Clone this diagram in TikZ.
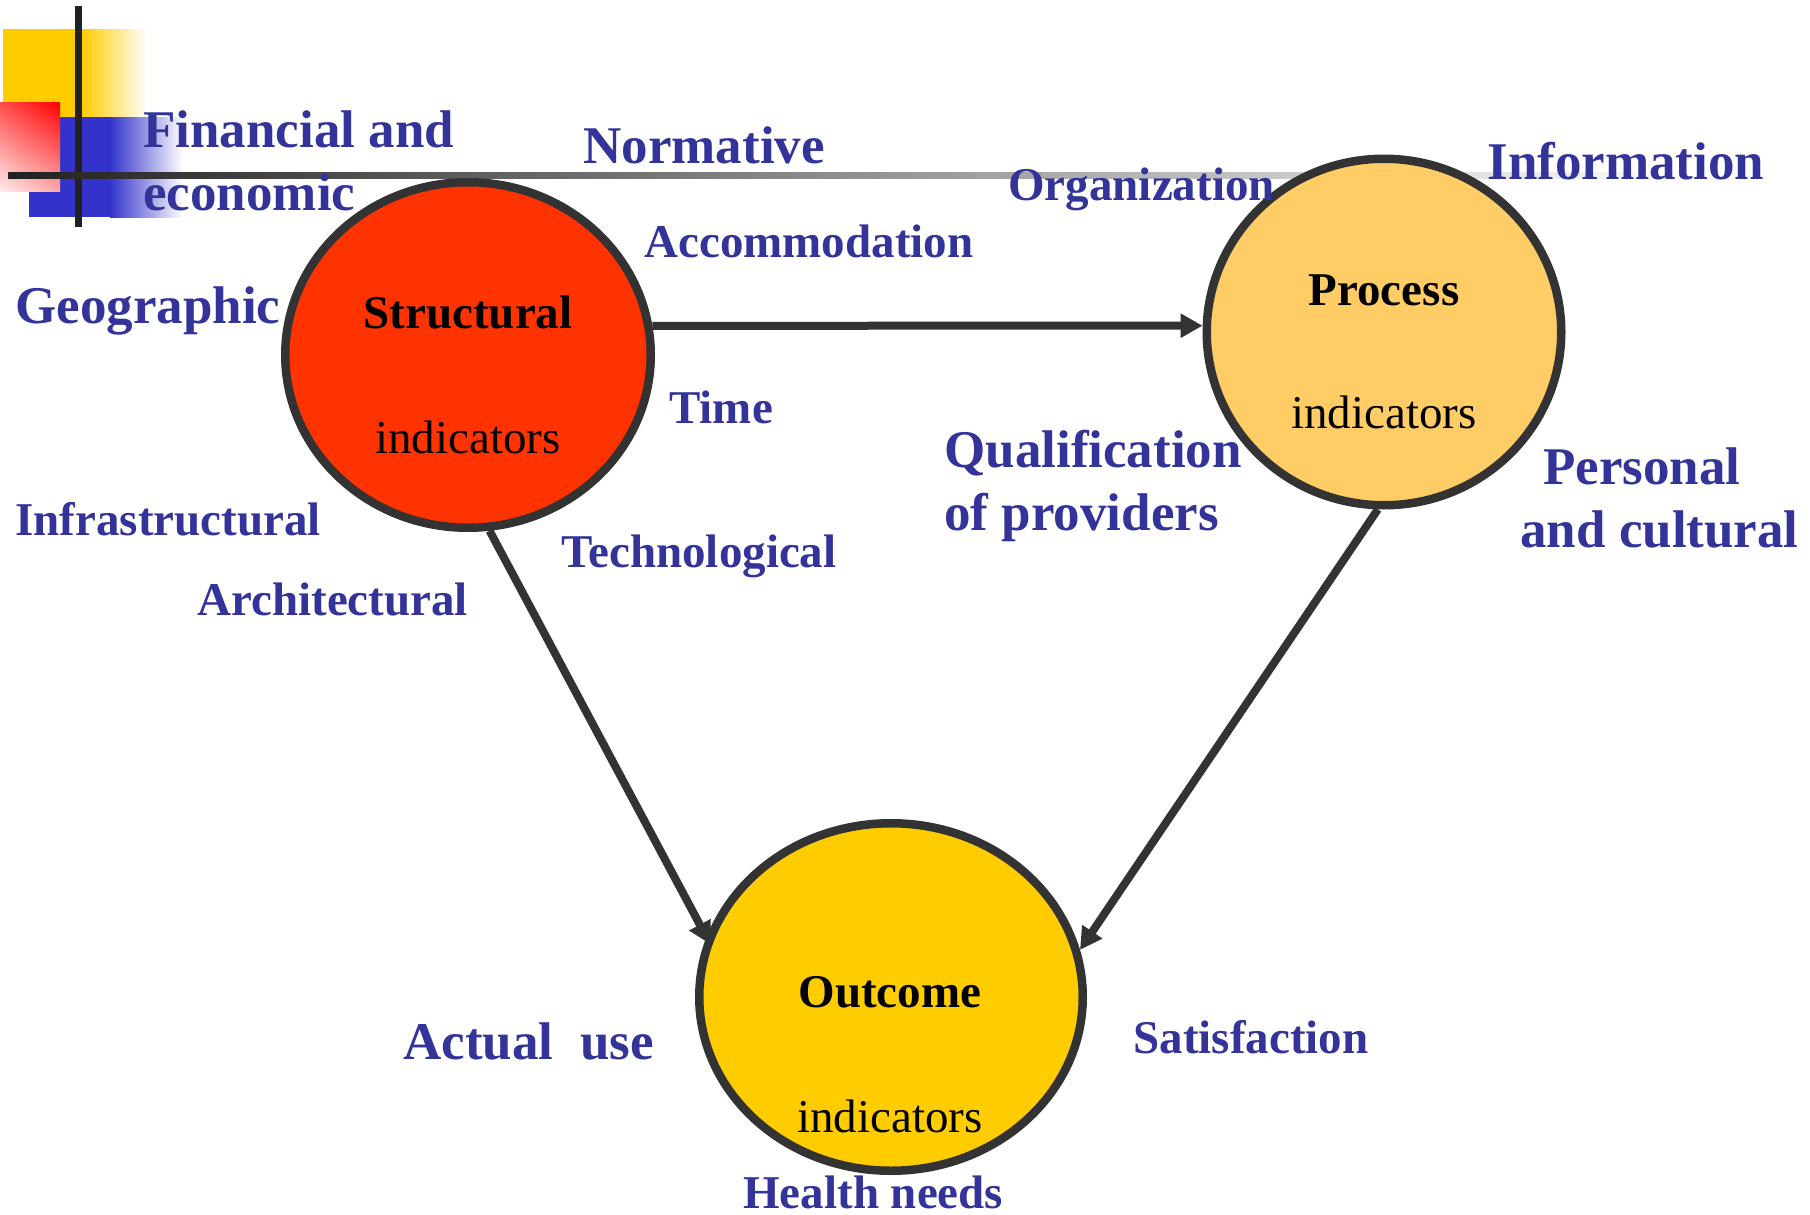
\documentclass[tikz,border=0pt]{standalone}
\usepackage{fontspec}
\setmainfont{Liberation Serif}
\usepackage{tikz}
\usetikzlibrary{arrows.meta,shapes.geometric,positioning,calc,shadings}
\usepackage{xcolor}
\definecolor{labelblue}{HTML}{333399}
\definecolor{edgegray}{HTML}{333333}
\definecolor{structred}{HTML}{FF3300}
\definecolor{procorange}{HTML}{FFCC66}
\definecolor{outyellow}{HTML}{FFCC00}
\definecolor{decoblue}{HTML}{3333CC}
\definecolor{decored}{HTML}{FF0000}

\begin{document}
\begin{tikzpicture}[x=0.5pt, y=-0.5pt,
    bigfont/.style={font=\fontsize{26.5}{31.5}\selectfont\bfseries},
    smallfont/.style={font=\fontsize{23.5}{28}\selectfont\bfseries},
    lbl/.style={text=labelblue, inner sep=0pt, anchor=base west},
    ctext/.style={inner sep=0pt, anchor=base, font=\fontsize{23.5}{28}\selectfont},
    indic/.style={ellipse, draw=edgegray, line width=4.25pt, inner sep=0pt},
    flow/.style={draw=edgegray, line width=4pt, -{Triangle[length=11pt,width=11.5pt]}}]
    \useasboundingbox (0,0) rectangle (1810,1215);

    % 左上角装饰
    \fill[outyellow] (3,29) rectangle (82,117);
    \shade[left color=outyellow, right color=white] (82,29) rectangle (147,117);
    \fill[decoblue] (29,117) rectangle (110,217);
    \shade[left color=decoblue, right color=white] (110,117) rectangle (183,217);
    \shade[upper left=decored!70!white, upper right=decored,
           lower left=decored!8!white, lower right=decored!35!white] (0,102) rectangle (60,191);
    \fill[black!87] (74.5,6) rectangle (81.5,227);
    \shade[left color=black!87, right color=white] (8,172) rectangle (1700,178);

    % 三个指标
    \node[indic, fill=structred, minimum width=182.75pt, minimum height=172.75pt] (S) at (468,355) {};
    \node[indic, fill=procorange, minimum width=177.25pt, minimum height=173.25pt] (P) at (1384,332) {};
    \node[indic, fill=outyellow, minimum width=191.75pt, minimum height=173.75pt] (O) at (891,997) {};

    \node[ctext, font=\fontsize{23.5}{28}\selectfont\bfseries] (Stitle) at ($(S)+(0,-27)$) {Structural};
    \node[ctext] (Sind) at ($(S)+(0,98)$) {indicators};
    \node[ctext, font=\fontsize{23.5}{28}\selectfont\bfseries] (Ptitle) at ($(P)+(0,-27)$) {Process};
    \node[ctext] (Pind) at ($(P)+(0,96)$) {indicators};
    \node[ctext, font=\fontsize{23.5}{28}\selectfont\bfseries] (Otitle) at ($(O)+(-1,10)$) {Outcome};
    \node[ctext] (Oind) at ($(O)+(-1,135)$) {indicators};

    % 箭头
    \draw[flow] (S.9) -- (P.178);
    \draw[flow, shorten >=-4pt] (S.-83) -- (O.162);
    \draw[flow] (P.-92) -- (O.14);

    % 标注
    \node[lbl, bigfont, align=left] (fin) at (143,210) {Financial and\\economic};
    \node[lbl, bigfont] (norm) at (583,163) {Normative};
    \node[lbl, smallfont] (org) at (1008,200) {Organization};
    \node[lbl, bigfont] (info) at (1487,179) {Information};
    \node[lbl, smallfont] (acc) at (644,257) {Accommodation};
    \node[lbl, bigfont] (geo) at (15,323) {Geographic};
    \node[lbl, smallfont] (time) at (669,423) {Time};
    \node[lbl, bigfont, align=left] (qual) at (944,530) {Qualification\\of providers};
    \node[lbl, bigfont, align=left] (pers) at (1520,547) {\hspace{11.5pt}Personal\\and cultural};
    \node[lbl, smallfont] (infra) at (15,535) {Infrastructural};
    \node[lbl, smallfont] (tech) at (561,567) {Technological};
    \node[lbl, smallfont] (arch) at (197,615) {Architectural};
    \node[lbl, bigfont] (use) at (403,1059) {Actual\ \ use};
    \node[lbl, smallfont] (sat) at (1133,1053) {Satisfaction};
    \node[lbl, smallfont] (need) at (743,1208) {Health needs};
\end{tikzpicture}
\end{document}
